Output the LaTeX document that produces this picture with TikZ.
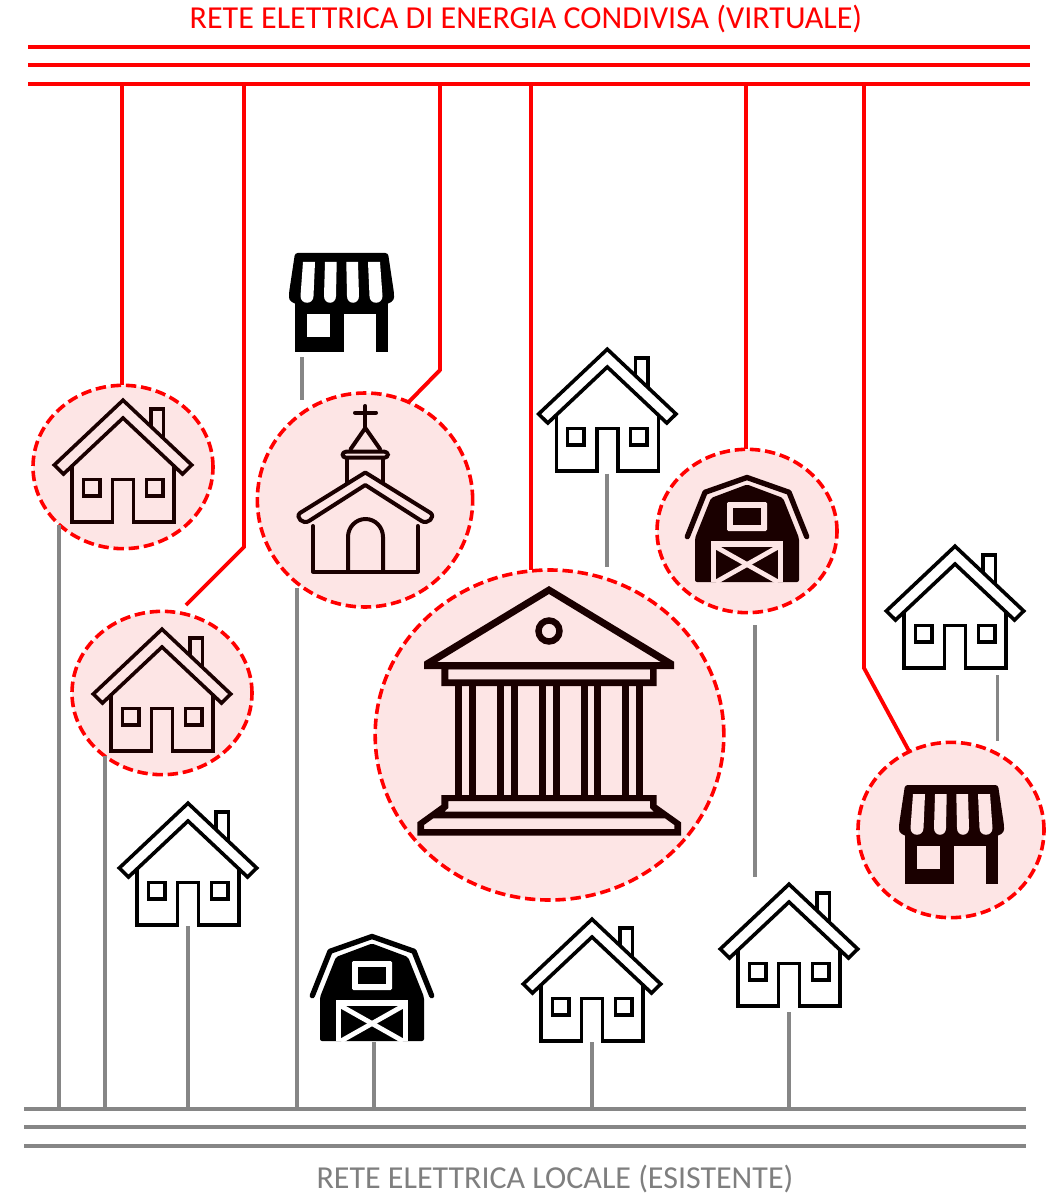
\documentclass[tikz,border=0pt]{standalone}
\usepackage{fontspec}
\setmainfont{Carlito}
\usetikzlibrary{shapes.geometric,calc}
\definecolor{redline}{HTML}{FF0000}
\definecolor{greyline}{HTML}{868686}
\definecolor{greytext}{HTML}{7F7F7F}
\definecolor{pinkfill}{HTML}{FDE5E5}
\definecolor{inkpink}{HTML}{1A0000}
\colorlet{iconink}{black}
\colorlet{iconpaper}{white}
\tikzset{
  x=0.75pt,y=-0.75pt,
  onpink/.code={\colorlet{iconink}{inkpink}\colorlet{iconpaper}{pinkfill}},
  redbus/.style={draw=redline,line width=2.9pt},
  greybus/.style={draw=greyline,line width=2.9pt},
  redwire/.style={draw=redline,line width=2.9pt,line join=miter},
  greywire/.style={draw=greyline,line width=2.9pt},
  member/.style={ellipse,draw=redline,fill=pinkfill,line width=2.7pt,dash pattern=on 7.8pt off 3.6pt,inner sep=0pt,outer sep=0pt},
  iconbox/.style={inner sep=0pt,outer sep=0pt,minimum width=#1},
  housebox/.style={iconbox=105pt,minimum height=93pt},
  shopbox/.style={iconbox=70pt,minimum height=74.25pt},
  barnbox/.style={iconbox=90pt,minimum height=81pt},
  house/.pic={
    \begin{scope}[draw=iconink,line width=2.7pt,line join=miter]
      \draw (0,1.2) -- (68.7,66) -- (59.5,75) -- (0,19) -- (-59.5,75) -- (-68.7,66) -- cycle;
      \draw (-51,66.5) -- (-51,122.9) -- (-10.5,122.9) -- (-10.5,80.5) -- (10.5,80.5) -- (10.5,122.9) -- (51,122.9) -- (51,66.5);
      \draw (-39.7,80.5) rectangle (-23.3,97);
      \draw (23.3,80.5) rectangle (39.7,97);
      \draw (28,28) -- (28,9.8) -- (40.5,9.8) -- (40.5,39);
    \end{scope}
  },
  shop/.pic={
    \fill[iconink,rounded corners=2pt] (-46.5,0) -- (46.5,0) -- (52.5,40) -- (52.5,47) -- (46.5,51) -- (-46.5,51) -- (-52.5,47) -- (-52.5,40) -- cycle;
    \fill[iconink] (-46.5,48) rectangle (46.5,99);
    \fill[iconpaper] (-34.5,61) rectangle (-11.5,84);
    \fill[iconpaper] (2.5,61) rectangle (34.5,99.5);
    \fill[iconpaper] (-38.5,9) -- (-26.5,9) -- (-28,43) .. controls (-28,52) and (-41,52) .. (-41,43) -- cycle;
    \fill[iconpaper] (-16.5,9) -- (-4.8,9) -- (-5.5,43) .. controls (-5.5,52) and (-17.5,52) .. (-17.5,43) -- cycle;
    \fill[iconpaper] (16.5,9) -- (4.8,9) -- (5.5,43) .. controls (5.5,52) and (17.5,52) .. (17.5,43) -- cycle;
    \fill[iconpaper] (38.5,9) -- (26.5,9) -- (28,43) .. controls (28,52) and (41,52) .. (41,43) -- cycle;
  },
  barn/.pic={
    \draw[iconink,line width=4pt,line cap=round,line join=round] (-59.7,61.7) -- (-42,17.3) -- (0,2.5) -- (42,17.3) -- (59.7,61.7);
    \fill[iconink,rounded corners=1.5pt] (0,9.5) -- (36,23) -- (52,63) -- (52,107) -- (-52,107) -- (-52,63) -- (-36,23) -- cycle;
    \fill[iconpaper,rounded corners=1pt] (-20,27) rectangle (20,56);
    \fill[iconink] (-14,33) rectangle (14,50);
    \fill[iconpaper] (-36,66) rectangle (36,107.2);
    \begin{scope}
      \clip (-31,72) rectangle (31,107);
      \fill[iconink] (-31,72) rectangle (31,107);
      \draw[iconpaper,line width=3.6pt] (-31,72) -- (31,107);
      \draw[iconpaper,line width=3.6pt] (31,72) -- (-31,107);
    \end{scope}
  }
}
\begin{document}
\begin{tikzpicture}
\useasboundingbox (0,0) rectangle (1048,1194);
% labels
\node[text=redline,font=\fontsize{24}{28}\selectfont,inner sep=0pt] (rlabel) at (526,19) {RETE ELETTRICA DI ENERGIA CONDIVISA (VIRTUALE)};
\node[text=greytext,font=\fontsize{24}{28}\selectfont,inner sep=0pt] (glabel) at (555,1178.5) {RETE ELETTRICA LOCALE (ESISTENTE)};
% buses
\foreach \yy/\nn in {47/a,65/b,84/c}{
  \coordinate (rL\nn) at (28,\yy); \coordinate (rR\nn) at (1030,\yy);
  \draw[redbus] (rL\nn) -- (rR\nn);
}
\foreach \yy/\nn in {1109/a,1127/b,1146/c}{
  \coordinate (gL\nn) at (24,\yy); \coordinate (gR\nn) at (1026,\yy);
  \draw[greybus] (gL\nn) -- (gR\nn);
}
% member circles
\path
  node[member,minimum width=135pt,minimum height=122.5pt] (C1) at (123,467) {}
  node[member,minimum width=135pt,minimum height=122.5pt] (C2) at (162,693) {}
  node[member,minimum width=161.5pt,minimum height=160.5pt] (C3) at (365,500) {}
  node[member,minimum width=261.5pt,minimum height=247.5pt] (C4) at (549.5,735) {}
  node[member,minimum width=135pt,minimum height=122.5pt] (C5) at (747,531) {}
  node[member,minimum width=139.5pt,minimum height=131.5pt] (C6) at (951,830) {};
% icon frames
\node[housebox] (h1) at (123,461) {};
\node[housebox] (h2) at (162,690) {};
\node[housebox] (h3) at (607.3,410) {};
\node[housebox] (h4) at (955,607) {};
\node[housebox] (h5) at (188,864) {};
\node[housebox] (h6) at (592,980) {};
\node[housebox] (h7) at (789,945) {};
\node[shopbox] (s1) at (341.5,302.5) {};
\node[shopbox] (s2) at (951.5,834.5) {};
\node[barnbox] (b1) at (747,529) {};
\node[barnbox] (b2) at (372,988) {};
% red wires
\coordinate (r1) at (122,84);
\coordinate (r2) at (244,84);  \coordinate (r2k) at (244,547);  \coordinate (r2e) at (186,605);
\coordinate (r3) at (440,84);  \coordinate (r3k) at (440,370);
\coordinate (r4) at (531,84);
\coordinate (r5) at (746,84);
\coordinate (r6) at (864,84);  \coordinate (r6k) at (864,668);
\draw[redwire] (r1) -- (r1 |- C1.north);
\draw[redwire] (r2) -- (r2k) -- (r2e);
\draw[redwire] (r3) -- (r3k) -- (C3.66);
\draw[redwire] (r4) -- (r4 |- C4.north);
\draw[redwire] (r5) -- (r5 |- C5.north);
\draw[redwire] (r6) -- (r6k) -- (C6.118);
% grey wires
\coordinate (g1) at (59,1109);
\coordinate (g2) at (105,1109);
\coordinate (g3) at (188,1109);
\coordinate (g4) at (297,1109);
\coordinate (g5) at (374,1109);
\coordinate (g6) at (592,1109);
\coordinate (g7) at (789,1109);
\coordinate (sa) at (302,357);  \coordinate (sb) at (302,400);
\coordinate (ta) at (607,473.5);  \coordinate (tb) at (607,567);
\coordinate (ua) at (755,625);  \coordinate (ub) at (755,877);
\coordinate (va) at (997.5,675);  \coordinate (vb) at (997.5,741);
\draw[greywire] (g1) -- (g1 |- C1.222.7);
\draw[greywire] (g2) -- (g2 |- C2.228.8);
\draw[greywire] (g3) -- (g3 |- h5.south);
\draw[greywire] (g4) -- (g4 |- C3.235);
\draw[greywire] (g5) -- (g5 |- b2.south);
\draw[greywire] (g6) -- (g6 |- h6.south);
\draw[greywire] (g7) -- ([yshift=-3.5pt]g7 |- h7.south);
\draw[greywire] (sa) -- (sb);
\draw[greywire] (ta) -- (tb);
\draw[greywire] (ua) -- (ub);
\draw[greywire] (va) -- (vb);
% icons
\pic at (h1.north) [onpink] {house};
\pic at (h2.north) [onpink] {house};
\pic at (h3.north) {house};
\pic at (h4.north) {house};
\pic at (h5.north) {house};
\pic at (h6.north) {house};
\pic at (h7.north) {house};
\pic at (s1.north) {shop};
\pic at (s2.north) [onpink] {shop};
\pic at (b1.north) [onpink] {barn};
\pic at (b2.north) {barn};
% church
\begin{scope}[draw=inkpink,line width=3pt,line cap=round,line join=round]
  \draw (365.3,406) -- (365.3,428);
  \draw (355,412.7) -- (376,412.7);
  \draw (350.7,449) -- (365.3,428) -- (380,449);
  \draw[rounded corners=2.6pt] (342.5,451.7) rectangle (388,457.7);
  \draw[line cap=butt] (347.3,459) -- (347.3,483);
  \draw[line cap=butt] (383.3,459) -- (383.3,483);
  \draw (365.3,472.5) -- (300,513) .. controls (295,517) and (303,525) .. (309,521) -- (365.3,485)
        -- (421.6,521) .. controls (427.6,525) and (435.6,517) .. (430.6,513) -- cycle;
  \draw (313,526) -- (313,571.5) -- (417.7,571.5) -- (417.7,526);
  \draw[line cap=butt] (348,571.5) -- (348,537) arc[start angle=180,end angle=360,x radius=17.5,y radius=18] -- (383,571.5);
\end{scope}
% bank
\fill[inkpink,even odd rule]
  (424,661.7) -- (549,586) -- (674,661.7) -- (674,669) -- (424,669) -- cycle
  (437.3,662) -- (549,594) -- (660.7,662) -- cycle;
\fill[inkpink,even odd rule] (441.3,668) rectangle (656.7,686) (448.3,669.3) rectangle (650,679.3);
\draw[inkpink,line width=4.8pt] (549,631) circle[radius=10.5];
\foreach \cx in {458.5,472.5,500.2,514.2,542,556,584,597.7,625.7,639.3}
  \fill[inkpink] (\cx-3.5,685) rectangle (\cx+3.5,796);
\fill[inkpink,even odd rule]
  (441.3,795) -- (656.7,795) -- (656.7,805) -- (681,822.3) -- (681,835.7) -- (417.3,835.7) -- (417.3,822.3) -- (441.3,805) -- cycle
  (448.3,801) -- (650,801) -- (650,808) -- (654,811.7) -- (444.3,811.7) -- (448.3,808) -- cycle
  (433.3,818.3) -- (665,818.3) -- (674.3,825) -- (674.3,829) -- (424,829) -- (424,825) -- cycle;
\end{tikzpicture}
\end{document}
